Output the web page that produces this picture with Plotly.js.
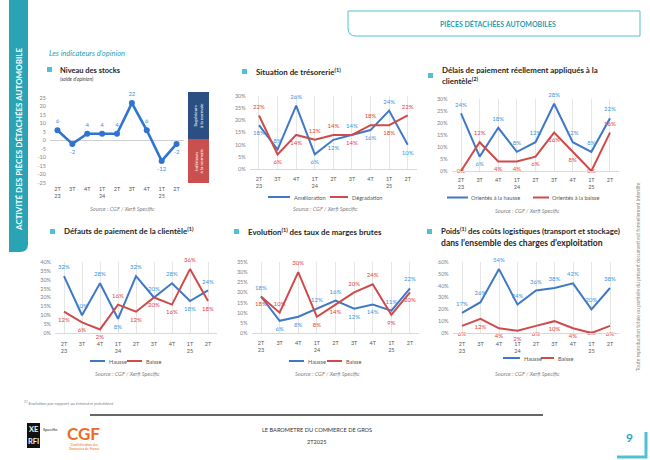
<!DOCTYPE html>
<html><head><meta charset="utf-8">
<script src="https://cdn.plot.ly/plotly-3.0.1.min.js"></script>
<style>html,body{margin:0;padding:0;background:#fff}#chart{width:650px;height:460px}</style>
</head><body><div id="chart"></div>
<script>
// ---------- DATA ----------
const quarters = ['2T<br>23','3T','4T','1T<br>24','2T','3T','4T','1T<br>25','2T'];
const stocks = [6,-2,4,4,4,22,6,-12,-2];
const tresoAmelioration = [18,8,26,6,12,14,16,24,10];
const tresoDegradation = [22,6,14,12,14,14,18,18,22];
const delaisHausse = [24,6,18,8,12,28,12,8,22];
const delaisBaisse = [0,12,4,4,6,16,8,0,16];
const defautsHausse = [32,10,28,8,32,20,28,18,24];
const defautsBaisse = [12,6,2,16,12,20,16,36,18];
const margesHausse = [18,6,8,12,16,12,14,11,22];
const margesBaisse = [18,10,30,8,14,20,24,9,20];
const logistHausse = [17,26,54,24,36,38,42,20,38];
const logistBaisse = [6,12,4,2,6,10,4,0,6];
const tresoNames = ['Amélioration','Dégradation'];
const delaisNames = ['Orientés à la hausse','Orientés à la baisse'];
const hbNames = ['Hausse','Baisse'];
const ticks1 = [25,20,15,10,5,0,-5,-10,-15,-20,-25];
const ticks30 = [0,5,10,15,20,25,30];
const ticks35 = [0,5,10,15,20,25,30,35];
const ticks40 = [0,5,10,15,20,25,30,35,40];
const ticks60 = [0,10,20,30,40,50,60];
const sourceText = 'Source : CGF / Xerfi Specific';

// ---------- STYLE ----------
const W=650,H=460;
const fx=x=>x/W, fy=y=>1-y/H;
const FONT='Lato, "Open Sans", sans-serif';
const TEAL='#2AA3B5', TEAL2='#4FC1D2';
const BL='#3F78C6', BT='#3E93DA', RL='#D04A4A', RT='#E2433B';
const idx = quarters.map((q,i)=>i);
const posMap={t:'top center',b:'bottom center',m:'middle center'};

const charts = [
 {k:1, dom:[50,184,98,183], range:[-25,25], tv:ticks1, suf:'', grid:false, markers:true, so:1,
  series:[{y:stocks, lc:'#2F74D0', tc:BT, pos:'tbtttttbb'}]},
 {k:2, dom:[249.7,417,96,169], range:[0,30], tv:ticks30, suf:'%', grid:true, so:4,
  series:[{y:tresoAmelioration, name:tresoNames[0], lc:BL, tc:BT, pos:'bttbbtbtb'},
          {y:tresoDegradation, name:tresoNames[1], lc:RL, tc:RT, pos:'tbbttbtbt'}],
  leg:{y:197, items:[[268,290,292],[330,348,350]]}, src:[325,208]},
 {k:3, dom:[451.7,619.3,99,171], range:[0,30], tv:ticks30, suf:'%', grid:true, so:3,
  series:[{y:delaisHausse, name:delaisNames[0], lc:BL, tc:BT, pos:'tbttttttt'},
          {y:delaisBaisse, name:delaisNames[1], lc:RL, tc:RT, pos:'mtbbbbbmt'}],
  leg:{y:197.5, items:[[447,468,469],[533,549,550]]}, src:[527,210]},
 {k:4, dom:[55,217,262,333], range:[0,40], tv:ticks40, suf:'%', grid:true, so:5,
  series:[{y:defautsHausse, name:hbNames[0], lc:BL, tc:BT, pos:'tttbtttbt'},
          {y:defautsBaisse, name:hbNames[1], lc:RL, tc:RT, pos:'bbbtbbbtb'}],
  leg:{y:361, items:[[90,105,107],[127,142,144]]}, src:[127,373]},
 {k:5, dom:[251.7,419.3,262,333], range:[0,35], tv:ticks35, suf:'%', grid:true, so:4,
  series:[{y:margesHausse, name:hbNames[0], lc:BL, tc:BT, pos:'tbbttbbtt'},
          {y:margesBaisse, name:hbNames[1], lc:RL, tc:RT, pos:'bttbbttbb'}],
  leg:{y:361, items:[[289,304,306],[327,342,344]]}, src:[327,373]},
 {k:6, dom:[452.75,619.25,262,333], range:[0,60], tv:ticks60, suf:'%', grid:true, so:5,
  series:[{y:logistHausse, name:hbNames[0], lc:BL, tc:BT, pos:'ttttttttt'},
          {y:logistBaisse, name:hbNames[1], lc:RL, tc:RT, pos:'bbbbbbbmb'}],
  leg:{y:358, items:[[503,520,522],[541,554,556]]}, src:[527,373]}
];

const traces=[], annotations=[], shapes=[];
const layout = {width:W, height:H, margin:{l:0,r:0,t:0,b:0}, paper_bgcolor:'#fff', plot_bgcolor:'rgba(0,0,0,0)',
  showlegend:false, font:{family:FONT, color:'#595959'}, annotations, shapes};

function ann(text,x,y,o={}){
  annotations.push(Object.assign({text, x:fx(x), y:fy(y), xref:'paper', yref:'paper', showarrow:false,
    xanchor:'left', yanchor:'middle', font:{family:FONT, size:6, color:'#595959'}}, o));
}
function rect(x0,y0,x1,y1,o={}){
  shapes.push(Object.assign({type:'rect', xref:'paper', yref:'paper', x0:fx(x0), x1:fx(x1), y0:fy(y0), y1:fy(y1), line:{width:0}}, o));
}
function line(x0,y0,x1,y1,color,width){
  shapes.push({type:'line', xref:'paper', yref:'paper', x0:fx(x0), x1:fx(x1), y0:fy(y0), y1:fy(y1), line:{color, width}});
}
// path: array items are [x,y] points (M first, then L) or raw strings
function path(pts,o){
  const d = pts.map((p,i)=>(typeof p==='string')?p:((i===0?'M':'L')+fx(p[0])+','+fy(p[1]))).join(' ');
  shapes.push(Object.assign({type:'path', xref:'paper', yref:'paper', path:d}, o));
}
const Q=(cx,cy,x,y)=>'Q'+fx(cx)+','+fy(cy)+' '+fx(x)+','+fy(y);

charts.forEach(c=>{
  const [x0,x1,yt,yb]=c.dom;
  const xa='xaxis'+(c.k===1?'':c.k), ya='yaxis'+(c.k===1?'':c.k);
  const xr='x'+(c.k===1?'':c.k), yr='y'+(c.k===1?'':c.k);
  layout[xa]={domain:[fx(x0),fx(x1)], range:[-0.5,8.5], anchor:yr, tickvals:idx, ticktext:quarters,
    tickfont:{size:5.5,color:'#595959',family:FONT}, showgrid:c.grid, gridcolor:'#e6e6e6', gridwidth:1,
    zeroline:false, showline:c.grid, linecolor:'#d9d9d9', linewidth:1, ticks:'', fixedrange:true, ticklabelstandoff:c.so};
  layout[ya]={domain:[fy(yb),fy(yt)], range:c.range, anchor:xr, tickvals:c.tv, ticktext:c.tv.map(v=>String(v)+c.suf),
    tickfont:{size:5.5,color:'#7f7f7f',family:FONT}, showgrid:false, zeroline:c.k===1, zerolinecolor:'#d0d0d0', zerolinewidth:1,
    showline:false, ticks:'', fixedrange:true, ticklabelstandoff:3};
  c.series.forEach(s=>{
    traces.push({type:'scatter', mode:c.markers?'lines+markers':'lines', x:idx, y:s.y, xaxis:xr, yaxis:yr,
      hoverinfo:'skip', line:{color:s.lc, width:c.markers?2.6:2}, marker:{size:6, color:s.lc}});
    traces.push({type:'scatter', mode:'markers+text', x:idx, y:s.y, xaxis:xr, yaxis:yr,
      text:s.y.map(v=>String(v)+c.suf), textposition:s.pos.split('').map(p=>posMap[p]),
      textfont:{size:6, color:s.tc, family:FONT}, cliponaxis:false, hoverinfo:'skip',
      marker:{size:7, color:'rgba(0,0,0,0)'}});
  });
  if(c.leg){
    c.series.forEach((s,i)=>{
      const it=c.leg.items[i];
      line(it[0],c.leg.y,it[1],c.leg.y,s.lc,2);
      ann(s.name,it[2],c.leg.y,{font:{family:FONT,size:5.6,color:'#595959'}});
    });
  }
  if(c.src) ann(sourceText,c.src[0],c.src[1],{xanchor:'center',font:{family:FONT,size:5.6,color:'#7f7f7f',style:'italic'}});
});

// ---------- PAGE DECORATION ----------
// left teal bar
path([[9,0],[28,0],[28,244],Q(28,252,20,252),[9,252],'Z'], {fillcolor:TEAL, line:{width:0}});
ann('ACTIVITÉ DES PIÈCES DÉTACHÉES AUTOMOBILE',19,140,{xanchor:'center',textangle:-90,font:{family:FONT,size:8,color:'#fff',weight:'bold'}});
// header box
path([[348,11],[640,11],[640,36],[356,36],Q(348,36,348,28),'Z'], {fillcolor:'rgba(0,0,0,0)', line:{color:TEAL2,width:1}});
ann('PIÈCES DÉTACHÉES AUTOMOBILES',498,24,{xanchor:'center',font:{family:FONT,size:7,color:'#1F9FB3',weight:'bold'}});
ann('Les indicateurs d’opinion',47,53,{font:{family:FONT,size:7.5,color:'#1F9FB3',style:'italic'}});

// chart titles
const titles = [
  {sq:[47,67], t:[['Niveau des stocks',58,70,7.5]]},
  {sq:[242,69], t:[['Situation de trésorerie<sup>(1)</sup>',254,72,7.9]]},
  {sq:[428,73], t:[['Délais de paiement réellement appliqués à la',440,70,7.9],['clientèle<sup>(2)</sup>',440,81,7.9]]},
  {sq:[50,229], t:[['Défauts de paiement de la clientèle<sup>(1)</sup>',62,231,7.9]]},
  {sq:[234,229], t:[['Evolution<sup>(1)</sup> des taux de marges brutes',246,232,7.9]]},
  {sq:[427,229], t:[['Poids<sup>(1)</sup> des coûts logistiques (transport et stockage)',439,231,7.8],['dans l’ensemble des charges d’exploitation',439,243,8.6]]}
];
titles.forEach(tt=>{
  rect(tt.sq[0],tt.sq[1],tt.sq[0]+5,tt.sq[1]+5,{fillcolor:TEAL2});
  tt.t.forEach(l=>ann(l[0],l[1],l[2],{font:{family:FONT,size:l[3],color:'#262626',weight:'bold'}}));
});
ann('(solde d’opinion)',58,79,{font:{family:FONT,size:5,color:'#404040',style:'italic'}});
ann(sourceText,122,208,{xanchor:'center',font:{family:FONT,size:5.6,color:'#7f7f7f',style:'italic'}});

// chart 1 side boxes
rect(188,92,209,139,{fillcolor:'#2B4F82'});
rect(188,139,209,183,{fillcolor:'#C9504E'});
ann('Supérieurs<br>à la normale',198.5,115.5,{xanchor:'center',textangle:-90,font:{family:FONT,size:4.6,color:'#fff'}});
ann('Inférieurs<br>à la normale',198.5,161,{xanchor:'center',textangle:-90,font:{family:FONT,size:4.6,color:'#fff'}});

// right vertical notice
ann('Toute reproduction totale ou partielle du présent document est formellement interdite',638,277,{xanchor:'center',textangle:-90,font:{family:FONT,size:5,color:'#8c8c8c'}});

// footer
ann('<sup>(1)</sup> Evolution par rapport au trimestre précédent',22,402,{font:{family:FONT,size:4.6,color:'#7f7f7f',style:'italic'}});
line(90,415,543,415,'#333',1.5);
rect(27,423,40,448,{fillcolor:'#111'});
ann('XE',33.5,429.5,{xanchor:'center',font:{family:FONT,size:7.5,color:'#E8F6F7',weight:'bold'}});
ann('RFI',33.5,441,{xanchor:'center',font:{family:FONT,size:7.5,color:'#E8F6F7',weight:'bold'}});
ann('Specific',41,429,{font:{family:FONT,size:4.3,color:'#222'}});
ann('CGF',65,433,{font:{family:FONT,size:17,color:'#F26A21',weight:'bold'}});
ann('Confédération des<br>Grossistes de France',67,447,{font:{family:FONT,size:3.4,color:'#F26A21'}});
ann('LE BAROMETRE DU COMMERCE DE GROS',317,429,{xanchor:'center',font:{family:FONT,size:5.6,color:'#333'}});
ann('2T2025',317,441,{xanchor:'center',font:{family:FONT,size:5.6,color:'#333'}});
ann('9',629,437,{xanchor:'center',font:{family:FONT,size:12,color:TEAL,weight:'bold'}});
path([[617,457],[646,457],[646,432]],{fillcolor:'rgba(0,0,0,0)',line:{color:TEAL2,width:3}});

Plotly.newPlot('chart', traces, layout, {staticPlot:true, displayModeBar:false});
</script></body></html>
